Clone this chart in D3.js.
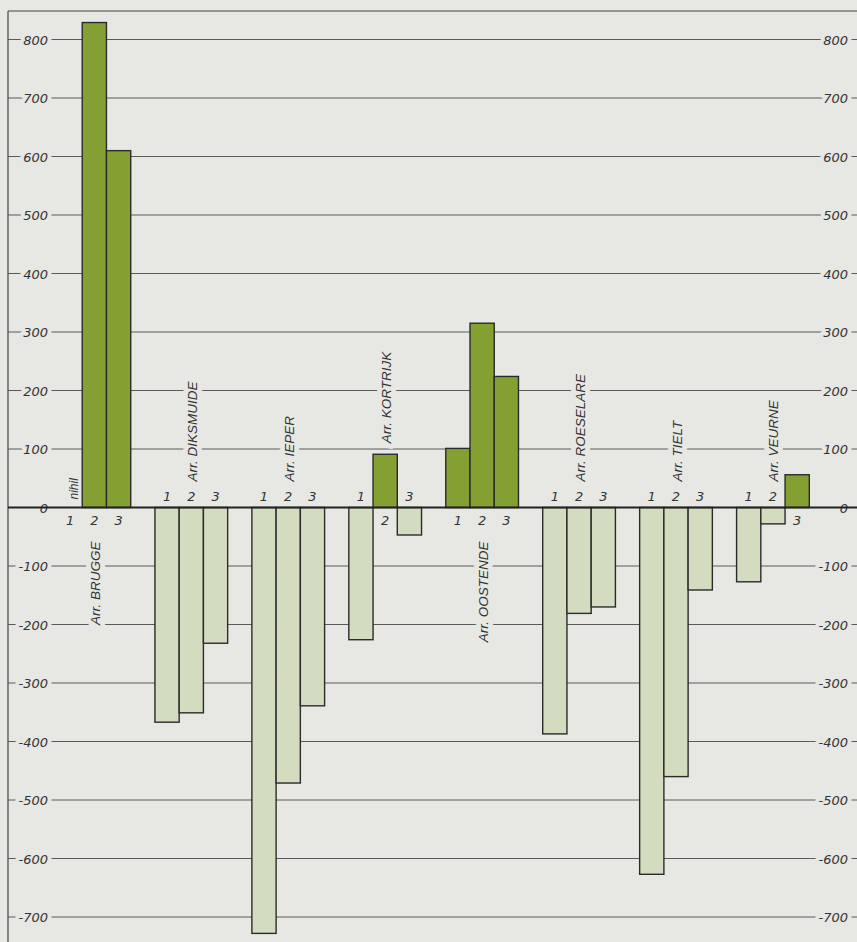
<!DOCTYPE html>
<html>
<head>
<meta charset="utf-8">
<script src="https://cdn.jsdelivr.net/npm/d3@7"></script>
<style>
  html, body { margin: 0; padding: 0; background: #e7e7e4; }
  svg { display: block; }
</style>
</head>
<body>
<div id="chart"></div>
<script>
// Arrondissementen (West-Vlaanderen), drie reeksen per arrondissement
const groups = ['BRUGGE', 'DIKSMUIDE', 'IEPER', 'KORTRIJK', 'OOSTENDE', 'ROESELARE', 'TIELT', 'VEURNE']
const series1 = [null, -367, -728, -226, 101, -387, -627, -127] // null = nihil
const series2 = [829, -351, -471, 91, 315, -181, -460, -28]
const series3 = [610, -232, -339, -47, 224, -170, -141, 56]
const barLabels = ['1', '2', '3']
const yTicks = [-700, -600, -500, -400, -300, -200, -100, 0, 100, 200, 300, 400, 500, 600, 700, 800]

const width = 857
const height = 942
const bg = '#e7e7e4'
const posColor = '#84a032'
const negColor = '#d4dcc0'
const ink = '#2b2b2b'
const numFont = '"DejaVu Sans", sans-serif'
const font = '"Liberation Sans", Arial, sans-serif'

const svg = d3.select('#chart')
  .append('svg')
  .attr('width', width)
  .attr('height', height)

svg.append('rect')
  .attr('width', width)
  .attr('height', height)
  .attr('fill', bg)

// schalen
const y = d3.scaleLinear()
  .domain([-700, 800])
  .range([917, 39.5])

const x = d3.scaleBand()
  .domain(groups)
  .range([58, 809.3])
  .paddingInner(0.25)
  .paddingOuter(0)

const xi = d3.scaleBand()
  .domain(barLabels)
  .range([0, x.bandwidth()])

const data = groups.map((g, i) => ({
  group: g,
  values: [series1[i], series2[i], series3[i]]
}))

// kader
svg.append('line')
  .attr('x1', 8).attr('x2', width)
  .attr('y1', 11).attr('y2', 11)
  .attr('stroke', '#444').attr('stroke-width', 1.2)
svg.append('line')
  .attr('x1', 8).attr('x2', 8)
  .attr('y1', 11).attr('y2', height)
  .attr('stroke', '#444').attr('stroke-width', 1.2)

// rasterlijnen
svg.append('g')
  .selectAll('line')
  .data(yTicks.filter(d => d !== 0))
  .join('line')
  .attr('x1', 8)
  .attr('x2', width)
  .attr('y1', d => y(d))
  .attr('y2', d => y(d))
  .attr('stroke', '#5a5a5a')
  .attr('stroke-width', 1)

// aslabels links en rechts
const halo = (sel, w) => sel
  .attr('stroke', bg)
  .attr('stroke-width', w)
  .attr('stroke-linejoin', 'round')
  .attr('paint-order', 'stroke')

const leftAxis = svg.append('g')
  .attr('transform', 'translate(48,0)')
  .call(d3.axisLeft(y).tickValues(yTicks).tickSize(0).tickPadding(0).tickFormat(d => String(d)))
const rightAxis = svg.append('g')
  .attr('transform', 'translate(848,0)')
  .call(d3.axisLeft(y).tickValues(yTicks).tickSize(0).tickPadding(0).tickFormat(d => String(d)))

;[leftAxis, rightAxis].forEach(a => {
  a.select('.domain').remove()
  a.selectAll('text')
    .style('font-family', numFont)
    .style('font-style', 'italic')
    .style('font-size', '13px')
    .attr('fill', '#333')
    .attr('dy', '0.36em')
    .call(halo, 8)
})

// staven
const gGroups = svg.append('g')
  .selectAll('g')
  .data(data)
  .join('g')
  .attr('transform', d => `translate(${x(d.group)},0)`)

gGroups.selectAll('rect')
  .data(d => d.values.map((v, j) => ({ v, key: barLabels[j] })).filter(b => b.v !== null))
  .join('rect')
  .attr('x', b => xi(b.key))
  .attr('width', xi.bandwidth())
  .attr('y', b => y(Math.max(0, b.v)))
  .attr('height', b => Math.abs(y(b.v) - y(0)))
  .attr('fill', b => b.v >= 0 ? posColor : negColor)
  .attr('stroke', ink)
  .attr('stroke-width', 1.4)

// nullijn
svg.append('line')
  .attr('x1', 8).attr('x2', width)
  .attr('y1', y(0)).attr('y2', y(0))
  .attr('stroke', '#222').attr('stroke-width', 2)

// nummers 1 2 3 aan de kant tegenover de staaf
gGroups.selectAll('text.num')
  .data(d => d.values.map((v, j) => ({ v, key: barLabels[j] })))
  .join('text')
  .attr('class', 'num')
  .attr('x', b => xi(b.key) + xi.bandwidth() / 2)
  .attr('y', b => (b.v !== null && b.v < 0) ? y(0) - 7 : y(0) + 17)
  .attr('text-anchor', 'middle')
  .style('font-family', numFont)
  .style('font-style', 'italic')
  .style('font-size', '13px')
  .attr('fill', '#333')
  .text(b => b.key)

// nihil
gGroups.filter(d => d.values[0] === null)
  .append('text')
  .attr('transform', `translate(${xi('1') + xi.bandwidth() / 2 + 8},${y(0) - 8}) rotate(-90)`)
  .style('font-family', font)
  .style('font-style', 'italic')
  .style('font-size', '12px')
  .attr('fill', '#333')
  .text('nihil')

// arrondissementsnamen
gGroups.append('text')
  .each(function (d) {
    const sum = d3.sum(d.values)
    const cx = x.bandwidth() / 2 + 5.5
    const t = d3.select(this)
    if (sum > 0) {
      t.attr('text-anchor', 'end')
        .attr('transform', `translate(${cx},${y(0) + 34}) rotate(-90)`)
    } else {
      const mid = d.values[1]
      const start = Math.min(y(0) - 26, mid > 0 ? y(mid) - 11 : Infinity)
      t.attr('text-anchor', 'start')
        .attr('transform', `translate(${cx},${start}) rotate(-90)`)
    }
  })
  .style('font-family', font)
  .style('font-style', 'italic')
  .style('font-size', '13.5px')
  .attr('fill', '#333')
  .call(halo, 10)
  .text(d => 'Arr. ' + d.group)
</script>
</body>
</html>
